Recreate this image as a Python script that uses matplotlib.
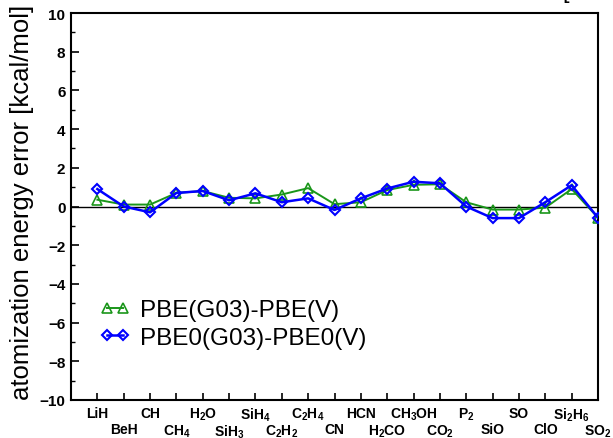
import matplotlib
matplotlib.use("Agg")
import matplotlib.pyplot as plt
from matplotlib.ticker import MultipleLocator, FixedLocator

plt.rcParams['font.family'] = ['Liberation Sans', 'DejaVu Sans']
plt.rcParams['mathtext.fontset'] = 'custom'
plt.rcParams['mathtext.rm'] = 'Liberation Sans:bold'
plt.rcParams['mathtext.it'] = 'Liberation Sans:bold'
plt.rcParams['mathtext.bf'] = 'Liberation Sans:bold'

molecules = ["LiH", "BeH", "CH", "CH$_4$", "H$_2$O", "SiH$_3$", "SiH$_4$", "C$_2$H$_2$",
             "C$_2$H$_4$", "CN", "HCN", "H$_2$CO", "CH$_3$OH", "CO$_2$", "P$_2$", "SiO",
             "SO", "ClO", "Si$_2$H$_6$", "SO$_2$"]
pbe_diff = [0.35, 0.1, 0.1, 0.7, 0.8, 0.45, 0.42, 0.62, 0.95, 0.12, 0.22, 0.85,
            1.12, 1.15, 0.22, -0.16, -0.16, -0.06, 0.9, -0.58]
pbe0_diff = [0.9, 0.0, -0.3, 0.7, 0.8, 0.32, 0.68, 0.22, 0.42, -0.18, 0.42, 0.93,
             1.28, 1.2, 0.0, -0.6, -0.6, 0.22, 1.1, -0.58]
series_labels = ["PBE(G03)-PBE(V)", "PBE0(G03)-PBE0(V)"]
ylabel = "atomization energy error [kcal/mol]"

x = list(range(1, len(molecules) + 1))

fig = plt.figure(figsize=(6.13, 4.39), dpi=100)
ax = fig.add_axes([71/613, 1-401/439, 527/613, 387/439])

ax.axhline(0, color='black', lw=1.0, zorder=1)
ax.plot(x, pbe_diff, color='#1a961a', lw=1.4, marker='^', ms=6.5, mfc='none',
        mew=1.2, label=series_labels[0], zorder=3)
ax.plot(x, pbe0_diff, color='#0000ff', lw=1.8, marker='D', ms=4.8, mfc='none',
        mew=1.5, label=series_labels[1], zorder=4)

ax.set_xlim(0, 20)
ax.set_ylim(-10, 10)

ax.yaxis.set_major_locator(MultipleLocator(2))
ax.yaxis.set_minor_locator(MultipleLocator(1))
ax.tick_params(axis='y', which='major', direction='in', length=6, width=1.2,
               left=True, right=False, labelsize=11, pad=4)
ax.tick_params(axis='y', which='minor', direction='in', length=3, width=1.0,
               left=True, right=False)
for lab in ax.get_yticklabels():
    lab.set_fontweight('bold')

odd = x[0::2]
even = x[1::2]
ax.xaxis.set_major_locator(FixedLocator(odd))
ax.xaxis.set_minor_locator(FixedLocator(even))
ax.set_xticklabels(molecules[0::2], fontweight='bold', fontsize=10)
ax.set_xticklabels(molecules[1::2], minor=True, fontweight='bold', fontsize=10)
ax.tick_params(axis='x', which='major', direction='in', length=5, width=1.2,
               top=False, pad=4)
ax.tick_params(axis='x', which='minor', direction='in', length=5, width=1.2,
               top=False, pad=16)

for s in ax.spines.values():
    s.set_linewidth(1.5)

fig.text(0.036, 0.54, ylabel, rotation=90, fontsize=18.5, ha='center', va='center')
fig.text(566/613, 1.005, "[", fontsize=17, ha='center', va='baseline')

leg = ax.legend(loc='center left', bbox_to_anchor=(0.055, 0.196), frameon=False,
                fontsize=17.5, handlelength=1.25, handletextpad=0.4, labelspacing=0.22,
                borderpad=0, borderaxespad=0, numpoints=2)

fig.savefig("out.png", dpi=100)
